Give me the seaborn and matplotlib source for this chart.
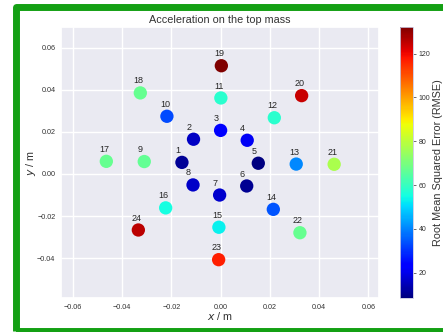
import numpy as np
import pandas as pd
import matplotlib
matplotlib.use("Agg")
import matplotlib.pyplot as plt
import seaborn as sns
from matplotlib.patches import Rectangle
from matplotlib.cm import ScalarMappable
from matplotlib.colors import Normalize

# ---- data ----
sensor_ids = [str(i) for i in range(1, 25)]
x_pos = [-0.0157, -0.0110, 0.0000, 0.0108, 0.0153, 0.0106, -0.0004, -0.0112,
         -0.0310, -0.0218, 0.0001, 0.0218, 0.0307, 0.0214, -0.0007, -0.0223,
         -0.0464, -0.0326, 0.0003, 0.0329, 0.0461, 0.0322, -0.0008, -0.0334]
y_pos = [0.0055, 0.0165, 0.0207, 0.0160, 0.0051, -0.0057, -0.0100, -0.0052,
         0.0059, 0.0274, 0.0361, 0.0267, 0.0047, -0.0168, -0.0253, -0.0161,
         0.0060, 0.0385, 0.0514, 0.0372, 0.0046, -0.0279, -0.0407, -0.0266]
rmse = [11.0, 16.0, 22.0, 21.0, 8.4, 10.5, 17.0, 16.5,
        66.5, 33.0, 58.0, 58.0, 40.5, 34.5, 53.0, 55.0,
        67.0, 67.0, 132.2, 124.0, 77.5, 67.0, 117.0, 125.5]

df = pd.DataFrame({"id": sensor_ids, "x": x_pos, "y": y_pos, "rmse": rmse})
vmin, vmax = min(rmse), max(rmse)

sns.set_theme(style="darkgrid")
plt.rcParams["font.family"] = ["Liberation Sans", "DejaVu Sans"]

fig = plt.figure(figsize=(4.43, 3.32), dpi=100)
ax = fig.add_axes([0.1377, 0.1024, 0.7178, 0.8163])
cax = fig.add_axes([0.903, 0.1024, 0.0293, 0.8163])

jet = matplotlib.colormaps["jet"]
norm = Normalize(vmin=vmin, vmax=vmax)
sns.scatterplot(data=df, x="x", y="y", hue="rmse", palette=jet,
                hue_norm=norm, s=92, linewidth=0, legend=False, ax=ax)

for _, r in df.iterrows():
    ax.annotate(r["id"], (r["x"], r["y"]), xytext=(-5.0, 8.6),
                textcoords="offset points", ha="left", va="center",
                fontsize=6.5, color="#262626")

ax.set_xlim(-0.0648, 0.0643)
ax.set_ylim(-0.0589, 0.0698)
ax.set_xticks([-0.06, -0.04, -0.02, 0.0, 0.02, 0.04, 0.06])
ax.set_yticks([-0.04, -0.02, 0.0, 0.02, 0.04, 0.06])
ax.tick_params(labelsize=5.2, colors="#333333", length=0)
ax.tick_params(axis="x", pad=4)
ax.tick_params(axis="y", pad=4)
ax.set_xlabel("$x$ / m", fontsize=7.8, color="#333333")
ax.set_ylabel("$y$ / m", fontsize=7.8, color="#333333")
ax.xaxis.set_label_coords(0.5, -0.045)
ax.yaxis.set_label_coords(-0.073, 0.5)
ax.set_title("Acceleration on the top mass", fontsize=7.8, color="#333333", pad=3)

sm = ScalarMappable(norm=norm, cmap=jet)
cbar = fig.colorbar(sm, cax=cax)
cbar.set_ticks([20, 40, 60, 80, 100, 120])
cbar.ax.tick_params(labelsize=5, length=2, width=0.5, colors="#333333", pad=2)
cbar.set_label("Root Mean Squared Error (RMSE)", fontsize=7.8, color="#333333", labelpad=2)
cbar.outline.set_linewidth(0.6)
cbar.outline.set_edgecolor("#c8c8e0")

# green frame around the figure
frame = Rectangle((15.5 / 443, 1.5 / 332), 1.2, 324 / 332,
                  transform=fig.transFigure, fill=False,
                  edgecolor="#14a014", linewidth=5.0, joinstyle="round",
                  clip_on=False)
fig.patches.append(frame)

fig.savefig("out.png", dpi=100)
